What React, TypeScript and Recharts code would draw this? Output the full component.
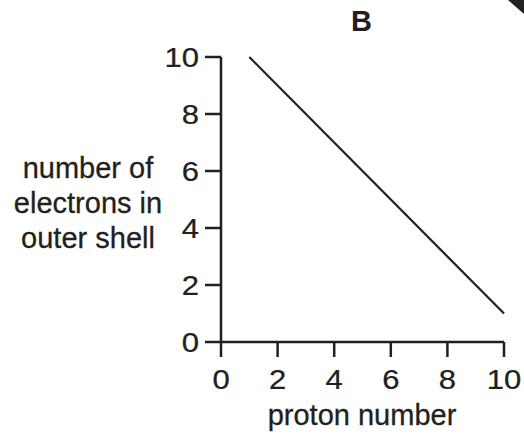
import { LineChart, Line, XAxis, YAxis, Label } from 'recharts'

// proton number vs electrons in outer shell — graph B
const protonNumbers = [1, 10]
const outerElectrons = [10, 1]
const xTicks = [0, 2, 4, 6, 8, 10]
const yTicks = [0, 2, 4, 6, 8, 10]
const yLabelLines = ['number of', 'electrons in', 'outer shell']
const xLabel = 'proton number'

const data = protonNumbers.map((p, i) => ({ proton: p, electrons: outerElectrons[i] }))

const FONT = '"Liberation Sans", Arial, sans-serif'
const INK = '#231f20'
// the scan's digits are a little wider than Liberation's
const DIGIT_STRETCH = 1.15

const YAxisTitle = () => (
  <text fontFamily={FONT} fontSize={29} fill={INK} stroke={INK} strokeWidth={0.3} textAnchor="middle">
    {yLabelLines.map((line, i) => (
      <tspan key={line} x={88} y={178 + i * 35}>{line}</tspan>
    ))}
  </text>
)

const XAxisTitle = () => (
  <text x={362} y={425} fontFamily={FONT} fontSize={29} fill={INK} stroke={INK} strokeWidth={0.3} textAnchor="middle">
    {xLabel}
  </text>
)

const XTick = (props: any) => (
  <text
    transform={`translate(${props.x},${props.y + 14}) scale(${DIGIT_STRETCH},1)`}
    textAnchor="middle" fontFamily={FONT} fontSize={27} fill={INK} stroke={INK} strokeWidth={0.25}
  >
    {props.payload.value}
  </text>
)

const YTick = (props: any) => (
  <text
    transform={`translate(${props.x},${props.y + 10}) scale(${DIGIT_STRETCH},1)`}
    textAnchor="end" fontFamily={FONT} fontSize={27} fill={INK} stroke={INK} strokeWidth={0.25}
  >
    {props.payload.value}
  </text>
)

export default function App() {
  return (
    <div style={{ position: 'absolute', left: 0, top: 0, width: 524, height: 436, background: '#fff' }}>
      <LineChart
        width={524}
        height={436}
        data={data}
        margin={{ top: 57, right: 20, bottom: 0, left: 0 }}
      >
        <XAxis
          type="number"
          dataKey="proton"
          domain={[0, 10]}
          ticks={xTicks}
          height={94}
          tickSize={15}
          tickMargin={18}
          axisLine={{ stroke: INK, strokeWidth: 2.5 }}
          tickLine={{ stroke: INK, strokeWidth: 2.5 }}
          tick={<XTick />}
        >
          <Label content={<XAxisTitle />} />
        </XAxis>
        <YAxis
          type="number"
          domain={[0, 10]}
          ticks={yTicks}
          width={221}
          tickSize={16}
          tickMargin={6}
          axisLine={{ stroke: INK, strokeWidth: 2.5 }}
          tickLine={{ stroke: INK, strokeWidth: 2.5 }}
          tick={<YTick />}
        >
          <Label content={<YAxisTitle />} />
        </YAxis>
        <Line
          dataKey="electrons"
          stroke={INK}
          strokeWidth={2.2}
          dot={false}
          isAnimationActive={false}
        />
      </LineChart>
      <div
        style={{
          position: 'absolute', left: 351, top: 6, fontFamily: FONT,
          fontWeight: 'bold', fontSize: 29, color: INK, lineHeight: '30px',
        }}
      >
        B
      </div>
      <div
        style={{
          position: 'absolute', left: 508, top: 0, width: 16, height: 14,
          background: '#222', clipPath: 'polygon(0 0, 100% 0, 100% 100%)',
        }}
      />
    </div>
  )
}
